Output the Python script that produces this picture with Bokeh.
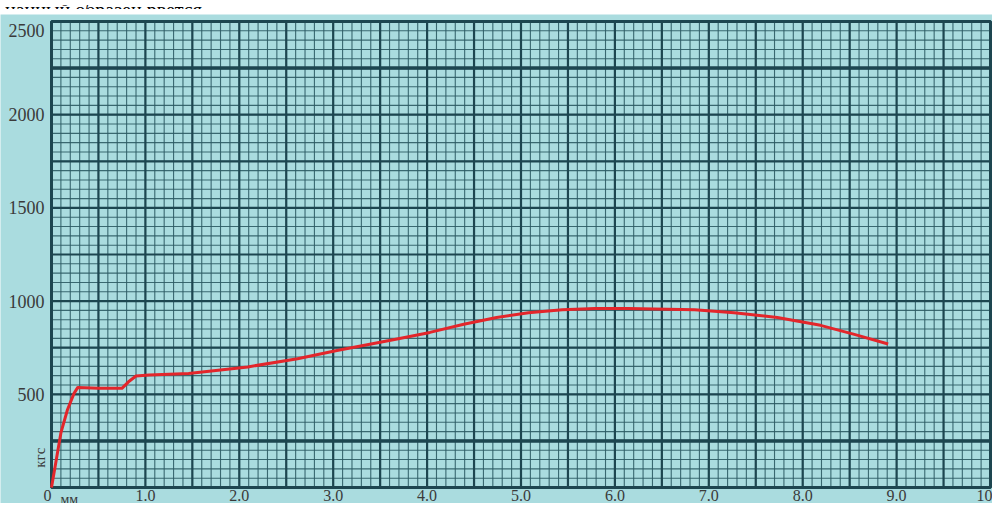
import numpy as np
from bokeh.plotting import figure
from bokeh.models import Div, Range1d, ColumnDataSource
from bokeh.core.properties import value
from bokeh.layouts import column
from bokeh.embed import file_html
from bokeh.resources import INLINE

# ---- data (elongation, mm  vs  load, kgf) ----
elong_mm = [0, 0.10, 0.17, 0.24, 0.28, 0.50, 0.75, 0.82, 0.90, 1.04, 1.46, 2.09,
            2.62, 3.04, 3.39, 3.68, 4.03, 4.39, 4.74, 5.08, 5.44, 5.79, 6.14,
            6.85, 7.27, 7.73, 8.19, 8.54, 8.91]
load_kgf = [0, 293, 417, 505, 537, 532, 532, 567, 598, 603, 611, 647,
            691, 735, 769, 797, 832, 876, 912, 938, 953, 960, 960,
            953, 938, 912, 870, 823, 770]

x_tick_values = [0, 1, 2, 3, 4, 5, 6, 7, 8, 9, 10]
x_tick_labels = ["0", "1.0", "2.0", "3.0", "4.0", "5.0", "6.0", "7.0", "8.0", "9.0", "10.0"]
y_tick_values = [500, 1000, 1500, 2000, 2500]
y_tick_labels = ["500", "1000", "1500", "2000", "2500"]
accent_levels = [250, 2250]
header_text = "ианный образец рвется."
x_unit = "мм"
y_unit = "кгс"
y_unit_at = 160          # load level at which the rotated unit label sits

X_MAX, Y_MAX = 10, 2500

BG = "#aadcdf"
DARK = "#1d4650"
MINOR = "#2c5b64"
TEXT = "#3a3a3a"
SERIF = "Liberation Serif"

# canvas size and the paper's inset inside it (pixels)
W, H = 992, 489
PAD_L, PAD_R, PAD_T, PAD_B = 51, 2, 7, 16
sx = (W - PAD_L - PAD_R) / X_MAX
sy = (H - PAD_T - PAD_B) / Y_MAX

p = figure(width=W, height=H,
           x_range=Range1d(-PAD_L / sx, X_MAX + PAD_R / sx),
           y_range=Range1d(-PAD_B / sy, Y_MAX + PAD_T / sy),
           output_backend="svg", toolbar_location=None,
           x_axis_location=None, y_axis_location=None,
           min_border=0, background_fill_color=BG, border_fill_color=BG,
           outline_line_color=None)
p.xgrid.visible = False
p.ygrid.visible = False

# graph-paper grid (fine 0.1 mm / 50 kgf, bold 0.5 mm / 250 kgf)
xs_minor = np.round(np.arange(0, X_MAX + 1e-9, 0.1), 3)
xs_major = np.round(np.arange(0, X_MAX + 1e-9, 0.5), 3)
ys_minor = np.arange(0, Y_MAX + 1, 50)
ys_major = np.arange(0, Y_MAX + 1, 250)

p.segment(x0=xs_minor, y0=0, x1=xs_minor, y1=Y_MAX, line_color=MINOR, line_width=1.1, line_alpha=0.9)
p.segment(x0=0, y0=ys_minor, x1=X_MAX, y1=ys_minor, line_color=MINOR, line_width=1.1, line_alpha=0.9)
p.segment(x0=xs_major, y0=0, x1=xs_major, y1=Y_MAX, line_color=DARK, line_width=2.2)
p.segment(x0=0, y0=ys_major, x1=X_MAX, y1=ys_major, line_color=DARK, line_width=2.2)
p.segment(x0=0, y0=accent_levels, x1=X_MAX, y1=accent_levels, line_color=DARK, line_width=3.5)
p.quad(left=0, right=X_MAX, bottom=0, top=Y_MAX, fill_color=None, line_color=DARK, line_width=3)

# curve
p.line(elong_mm, load_kgf, line_color="#e3262b", line_width=3, line_join="round")

# tick labels (placed through the data scales)
xsrc = ColumnDataSource(dict(x=x_tick_values, t=x_tick_labels, y=[0] * len(x_tick_values),
                             dx=[-4 if v == 0 else 0 for v in x_tick_values]))
p.text(x="x", y="y", text="t", x_offset="dx", y_offset=2, source=xsrc,
       text_align="center", text_baseline="top",
       text_font=value(SERIF), text_font_size="16px", text_color=TEXT)
ysrc = ColumnDataSource(dict(y=y_tick_values, t=y_tick_labels, x=[0] * len(y_tick_values),
                             dy=[9 if v == Y_MAX else 0 for v in y_tick_values]))
p.text(x="x", y="y", text="t", y_offset="dy", x_offset=-7, source=ysrc,
       text_align="right", text_baseline="middle",
       text_font=value(SERIF), text_font_size="18px", text_color=TEXT)

# unit labels
p.text(x=[0], y=[0], text=[x_unit], x_offset=9, y_offset=4,
       text_align="left", text_baseline="top",
       text_font=value(SERIF), text_font_size="14px", text_color=TEXT)
p.text(x=[0], y=[y_unit_at], text=[y_unit], x_offset=-12, angle=np.pi / 2,
       text_align="center", text_baseline="middle",
       text_font=value(SERIF), text_font_size="15px", text_color=TEXT)

header = Div(text=f'<div style="margin-top:-12px;font-family:{SERIF};font-size:20px;'
                  f'line-height:20px;color:#000;white-space:nowrap">{header_text}</div>',
             width=W, height=4, styles={"overflow": "hidden"})

layout = column(header, p, spacing=0)
open("out.html", "w").write(file_html(layout, INLINE))
